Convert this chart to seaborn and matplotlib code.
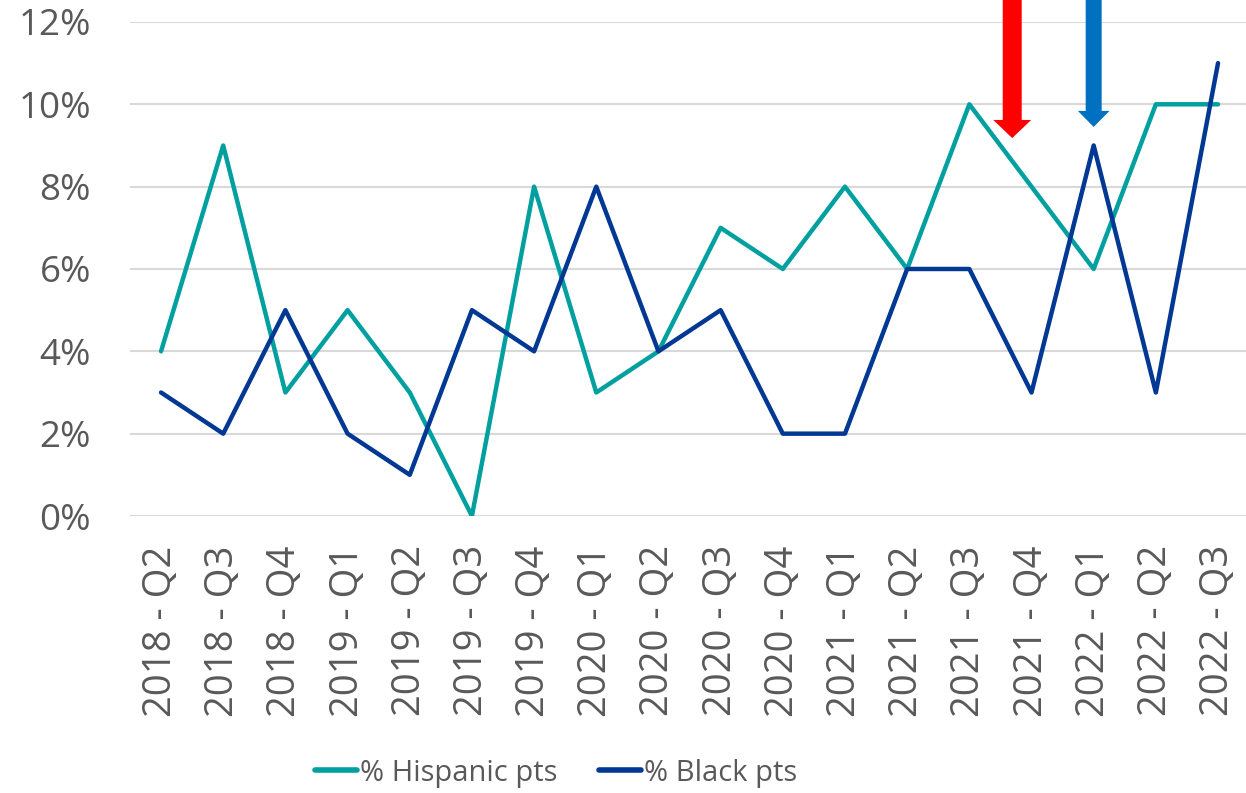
import matplotlib
matplotlib.use("Agg")
import matplotlib.pyplot as plt
import seaborn as sns
import pandas as pd
from matplotlib.patches import FancyArrow
from matplotlib.ticker import FuncFormatter

quarters = ["2018 - Q2", "2018 - Q3", "2018 - Q4", "2019 - Q1", "2019 - Q2", "2019 - Q3",
            "2019 - Q4", "2020 - Q1", "2020 - Q2", "2020 - Q3", "2020 - Q4", "2021 - Q1",
            "2021 - Q2", "2021 - Q3", "2021 - Q4", "2022 - Q1", "2022 - Q2", "2022 - Q3"]
hispanic = [4, 9, 3, 5, 3, 0, 8, 3, 4, 7, 6, 8, 6, 10, 8, 6, 10, 10]
black = [3, 2, 5, 2, 1, 5, 4, 8, 4, 5, 2, 2, 6, 6, 3, 9, 3, 11]
series_names = ["% Hispanic pts", "% Black pts"]
colors = ["#009FA0", "#003893"]
yticks = [0, 2, 4, 6, 8, 10, 12]

df = pd.DataFrame({"quarter": quarters, series_names[0]: hispanic, series_names[1]: black})
long = df.melt(id_vars="quarter", var_name="series", value_name="value")
long["x"] = long["quarter"].map({q: i for i, q in enumerate(quarters)})

sns.set_theme(style="white")
plt.rcParams["font.family"] = ["Open Sans", "DejaVu Sans"]

fig = plt.figure(figsize=(12.46, 7.93), dpi=100)
ax = fig.add_axes([0.1043, 0.3493, 0.8982, 0.9723 - 0.3493])

for y in yticks:
    ax.axhline(y, color="#D9D9D9", lw=1.5, zorder=0)

sns.lineplot(data=long, x="x", y="value", hue="series", palette=dict(zip(series_names, colors)),
             lw=3.2, ax=ax, sort=False, legend=True, solid_capstyle="round")

ax.set_xlim(-0.5, 17.5)
ax.set_ylim(0, 12)
ax.set_xticks(range(len(quarters)))
ax.set_xticklabels(quarters, rotation=90, fontsize=27.5, color="#595959")
ax.set_yticks(yticks)
ax.yaxis.set_major_formatter(FuncFormatter(lambda v, p: f"{v:.0f}%"))
ax.tick_params(axis="y", labelsize=26.5, colors="#595959", length=0, pad=28)
ax.tick_params(axis="x", length=0, pad=21)
ax.set_xlabel("")
ax.set_ylabel("")
ax.grid(False)
for s in ax.spines.values():
    s.set_visible(False)

# arrows
a1 = FancyArrow(13.69, 12.7, 0, 9.18 - 12.7, width=0.305, head_width=0.61, head_length=0.44,
                length_includes_head=True, color="#FF0000", clip_on=False, zorder=5, lw=0)
a2 = FancyArrow(15.0, 12.7, 0, 9.45 - 12.7, width=0.257, head_width=0.51, head_length=0.39,
                length_includes_head=True, color="#0070C0", clip_on=False, zorder=5, lw=0)
ax.add_patch(a1)
ax.add_patch(a2)

handles, labels = ax.get_legend_handles_labels()
leg = ax.legend(handles, labels, loc="center", ncol=2, frameon=False,
                prop={"family": ["Open Sans"], "size": 21},
                handlelength=1.45, handletextpad=0.1, columnspacing=1.4)
for t in leg.get_texts():
    t.set_color("#595959")
for l in leg.get_lines():
    l.set_linewidth(4)
    l.set_solid_capstyle("round")
leg.set_bbox_to_anchor((556 / 1246, (793 - 773) / 793), transform=fig.transFigure)

fig.savefig("out.png", dpi=100)
